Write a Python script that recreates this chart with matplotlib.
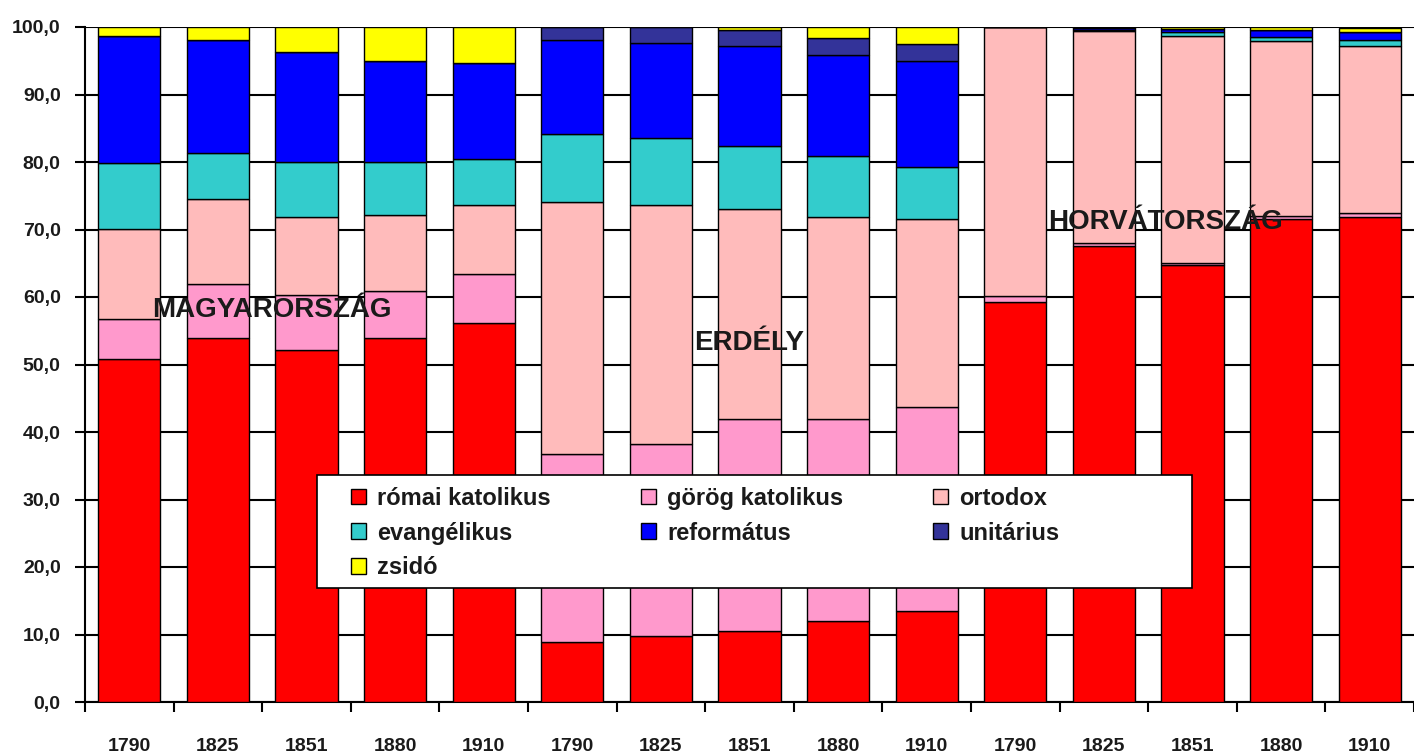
import matplotlib
matplotlib.use("Agg")
import matplotlib.pyplot as plt
import numpy as np
from matplotlib.patches import Rectangle, Patch
from matplotlib.ticker import FuncFormatter, FixedLocator

plt.rcParams['font.family'] = ['Liberation Sans', 'DejaVu Sans']

years = ["1790", "1825", "1851", "1880", "1910"] * 3
regions = ["MAGYARORSZÁG", "ERDÉLY", "HORVÁTORSZÁG"]

romai = [50.8, 54.0, 52.2, 54.0, 56.1, 8.9, 9.8, 10.5, 12.0, 13.5, 59.3, 67.5, 64.8, 71.6, 71.9]
gorog = [6.0, 7.9, 8.1, 6.9, 7.3, 27.8, 28.4, 31.4, 29.9, 30.2, 0.8, 0.5, 0.3, 0.4, 0.6]
ortodox = [13.3, 12.6, 11.6, 11.2, 10.2, 37.4, 35.4, 31.1, 30.0, 27.8, 39.9, 31.4, 33.5, 25.9, 24.7]
evang = [9.7, 6.9, 8.1, 7.9, 6.9, 10.0, 9.9, 9.4, 9.0, 7.7, 0.0, 0.1, 0.7, 0.6, 0.9]
reform = [18.9, 16.7, 16.3, 15.0, 14.1, 14.0, 14.2, 14.8, 15.0, 15.8, 0.0, 0.3, 0.4, 1.0, 1.1]
unit = [0.0, 0.0, 0.0, 0.0, 0.0, 1.9, 2.3, 2.4, 2.5, 2.5, 0.0, 0.0, 0.0, 0.0, 0.0]
zsido = [1.3, 1.9, 3.7, 5.0, 5.4, 0.0, 0.0, 0.4, 1.6, 2.5, 0.0, 0.2, 0.3, 0.5, 0.7]

series = [
    ("római katolikus", romai, "#FF0000"),
    ("görög katolikus", gorog, "#FF99CC"),
    ("ortodox", ortodox, "#FFBBBB"),
    ("evangélikus", evang, "#33CCCC"),
    ("református", reform, "#0000FF"),
    ("unitárius", unit, "#333399"),
    ("zsidó", zsido, "#FFFF00"),
]

W, H = 1414, 756
fig = plt.figure(figsize=(W / 100, H / 100), dpi=100)
ax = fig.add_axes([85 / W, (H - 702) / H, (1414 - 85) / W, 675 / H])

x = np.arange(len(years))
bottom = np.zeros(len(years))
handles = {}
for name, vals, col in series:
    v = np.array(vals)
    ax.bar(x, v, width=0.70, bottom=bottom, color=col, edgecolor="black",
           linewidth=1.0, zorder=3)
    handles[name] = Patch(facecolor=col, edgecolor="black", linewidth=1.0)
    bottom += v

ax.set_xlim(-0.5, len(years) - 0.5)
ax.set_ylim(0, 100)
ax.set_yticks(np.arange(0, 101, 10))
ax.yaxis.set_major_formatter(FuncFormatter(lambda v, p: f"{v:.1f}".replace(".", ",")))
ax.yaxis.grid(True, color="black", linewidth=1.5, zorder=0)
ax.set_axisbelow(True)

ax.set_xticks(x)
ax.set_xticklabels(years)
ax.xaxis.set_minor_locator(FixedLocator(np.arange(-0.5, len(years), 1.0)))
ax.tick_params(axis="x", which="major", length=0, pad=26, labelsize=14)
ax.tick_params(axis="x", which="minor", length=7.5, width=1.5, direction="out")
ax.tick_params(axis="y", which="major", length=7.5, width=1.5, direction="out",
               pad=10, labelsize=14)
for lab in ax.get_xticklabels() + ax.get_yticklabels():
    lab.set_fontweight("bold")
    lab.set_color("#1a1a1a")

for s in ["top", "right"]:
    ax.spines[s].set_visible(False)
for s in ["left", "bottom"]:
    ax.spines[s].set_linewidth(1.5)
    ax.spines[s].set_color("black")

# region labels
region_pos = [(1.61, 58.1), (7.0, 53.2), (11.69, 71.1)]
for name, (rx, ry) in zip(regions, region_pos):
    ax.text(rx, ry, name, ha="center", va="center", fontsize=20,
            fontweight="bold", color="#1a1a1a", zorder=6)

# legend box
box = Rectangle((317 / W, (H - 588) / H), (1192 - 317) / W, (588 - 475) / H,
                transform=fig.transFigure, facecolor="white", edgecolor="black",
                linewidth=1.2, zorder=4)
fig.add_artist(box)

order = ["római katolikus", "evangélikus", "zsidó", "görög katolikus",
         "református", "ortodox", "unitárius"]
leg = fig.legend([handles[n] for n in order], order, ncol=3, frameon=False,
                 loc="upper left", bbox_to_anchor=(339 / W, (H - 475) / H),
                 prop={"size": 17, "weight": "bold"},
                 handlelength=0.65, handleheight=0.65, handletextpad=0.47,
                 columnspacing=3.8, labelspacing=0.5, borderpad=0.0)
leg.set_zorder(5)
for t in leg.get_texts():
    t.set_color("#1a1a1a")

fig.savefig("out.png", dpi=100)
